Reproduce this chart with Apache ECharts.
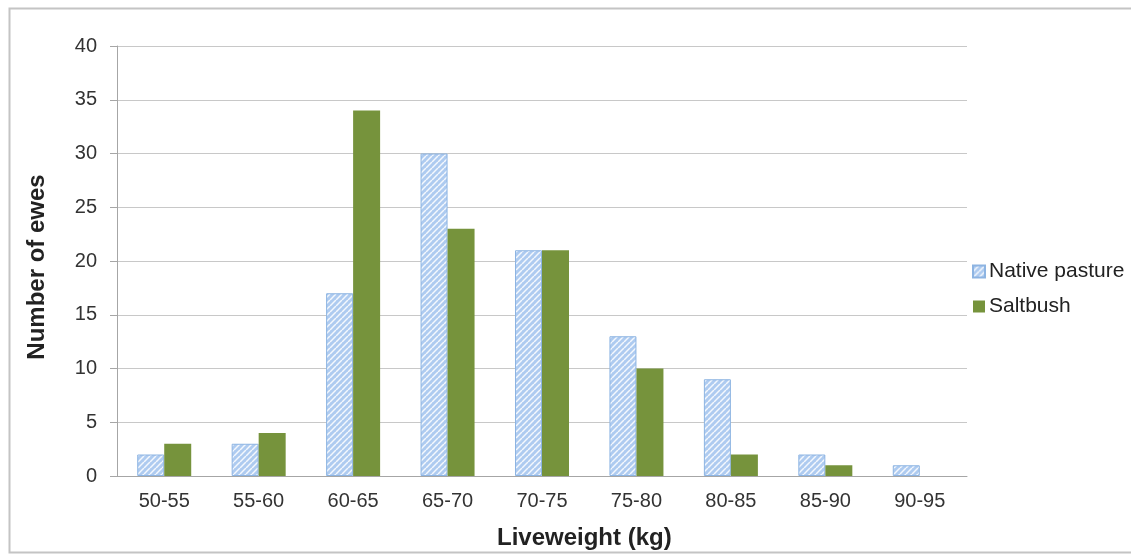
<!DOCTYPE html>
<html><head><meta charset="utf-8">
<script src="https://cdn.jsdelivr.net/npm/echarts@6/dist/echarts.min.js"></script>
<style>html,body{margin:0;padding:0;background:#fff}#c{width:1131px;height:556px}</style>
</head><body><div id="c"></div>
<script>
const categories = ['50-55','55-60','60-65','65-70','70-75','75-80','80-85','85-90','90-95'];
const nativePasture = [2, 3, 17, 30, 21, 13, 9, 2, 1];
const saltbush = [3, 4, 34, 23, 21, 10, 2, 1, 0];
const yTicks = [0, 5, 10, 15, 20, 25, 30, 35, 40];

const pc = document.createElement('canvas');
pc.width = 6; pc.height = 6;
const g = pc.getContext('2d');
g.fillStyle = '#aecbf0'; g.fillRect(0,0,6,6);
g.strokeStyle = '#f4f8fd'; g.lineWidth = 1.5;
for (let k = -6; k <= 12; k += 6) { g.beginPath(); g.moveTo(k, 6); g.lineTo(k + 6, 0); g.stroke(); }

const chart = echarts.init(document.getElementById('c'), null, {renderer: 'canvas'});
const font = 'Liberation Sans, Arial, sans-serif';
chart.setOption({
  animation: false,
  grid: {left: 117, right: 164, top: 46, bottom: 80},
  legend: {
    orient: 'vertical', left: 972, top: 261, itemWidth: 12, itemHeight: 12, itemGap: 14, padding: 0,
    textStyle: {fontFamily: font, fontSize: 21, color: '#222', padding: [0, 0, 0, -1]},
    data: [{name: 'Native pasture', icon: 'rect'}, {name: 'Saltbush', icon: 'rect'}]
  },
  xAxis: {
    type: 'category', data: categories,
    axisLine: {lineStyle: {color: '#a6a6a6'}}, axisTick: {show: false},
    axisLabel: {fontFamily: font, fontSize: 20, color: '#333', margin: 15}
  },
  yAxis: {
    type: 'value', min: yTicks[0], max: yTicks[yTicks.length-1], interval: 5,
    name: 'Number of ewes', nameLocation: 'middle', nameGap: 68, nameRotate: 90,
    nameTextStyle: {fontFamily: font, fontSize: 24, fontWeight: 'bold', color: '#222', padding: [0, 12, 0, 0]},
    axisLine: {show: true, lineStyle: {color: '#a6a6a6'}},
    axisTick: {show: true, length: 7, lineStyle: {color: '#a6a6a6'}},
    axisLabel: {fontFamily: font, fontSize: 20, color: '#333', margin: 20},
    splitLine: {lineStyle: {color: '#c8c8c8'}}
  },
  graphic: [
    {type: 'rect', shape: {x: 9.5, y: 8.5, width: 1140, height: 544}, style: {fill: 'none', stroke: '#c4c4c4', lineWidth: 2}, silent: true},
    {type: 'text', left: 497, top: 526, style: {text: 'Liveweight (kg)', font: 'bold 24px Liberation Sans, Arial, sans-serif', fill: '#222'}}
  ],
  series: [
    {name: 'Native pasture', type: 'bar', data: nativePasture, barWidth: 27, barGap: '0%',
     itemStyle: {color: {image: pc, repeat: 'repeat'}, borderColor: '#8db4e2', borderWidth: 1}},
    {name: 'Saltbush', type: 'bar', data: saltbush, barWidth: 27, barGap: '0%',
     itemStyle: {color: '#76933c'}}
  ]
});
</script></body></html>
